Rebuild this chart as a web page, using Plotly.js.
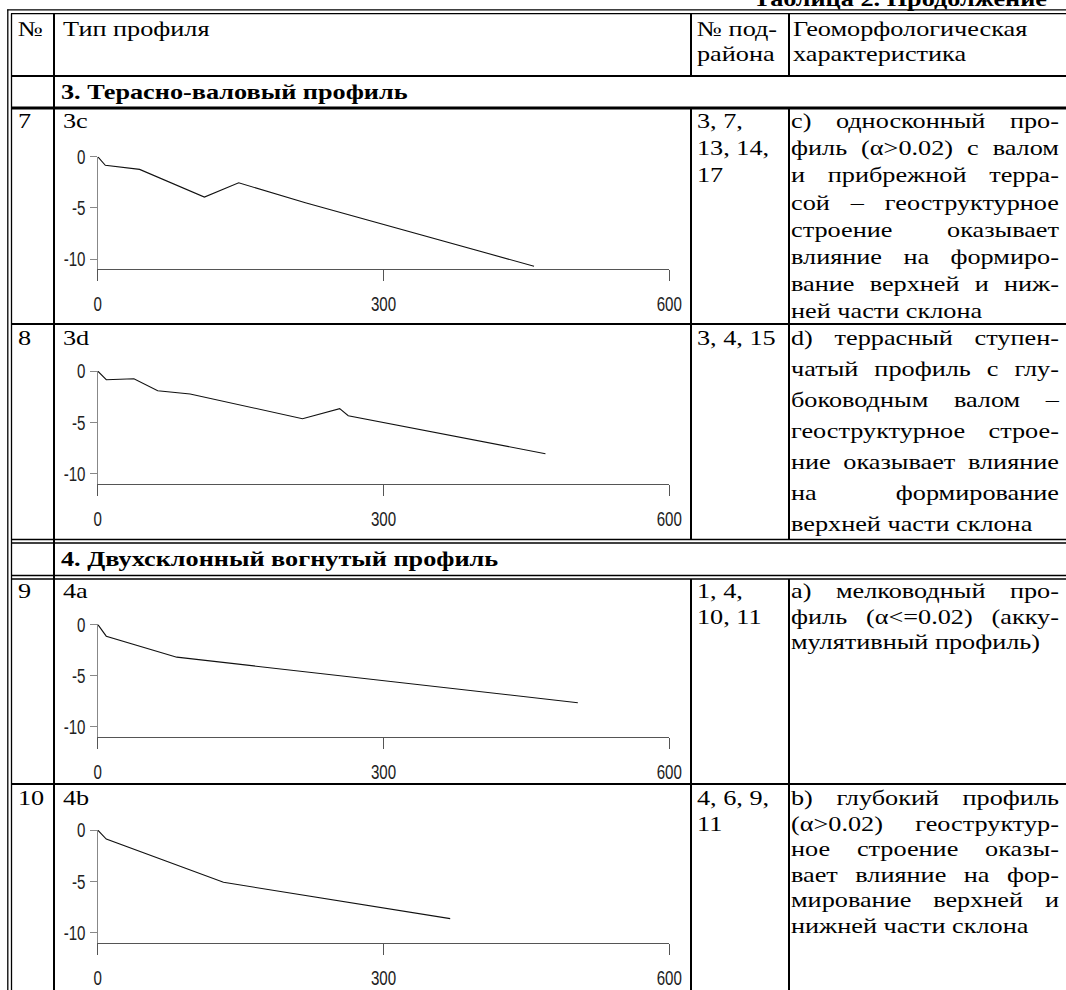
<!DOCTYPE html>
<html><head><meta charset="utf-8">
<script src="https://cdn.plot.ly/plotly-3.0.1.min.js"></script>
<style>html,body{margin:0;padding:0;background:#fff}#chart{width:1066px;height:990px}</style>
</head><body><div id="chart"></div>
<script>
// ---------------- DATA ----------------
const profile3c_x = [0, 8, 44, 112, 148, 218, 458];
const profile3c_y = [0, -0.84, -1.24, -3.95, -2.55, -4.5, -10.7];
const profile3d_x = [0, 9, 38, 63, 97, 215, 254, 263, 470];
const profile3d_y = [0, -0.85, -0.75, -1.93, -2.25, -4.66, -3.68, -4.37, -8.08];
const profile4a_x = [0, 9, 83, 504];
const profile4a_y = [0, -1.15, -3.2, -7.65];
const profile4b_x = [0, 9, 132, 370];
const profile4b_y = [0, -0.88, -5.11, -8.66];

const xTickVals = [0, 300, 600];
const xTickText = ['0', '300', '600'];
const yTickVals = [0, -5, -10];
const yTickText = ['0', '-5', '-10'];

const caption = 'Таблица 2. Продолжение';
const headerCol1 = ['№'];
const headerCol2 = ['Тип профиля'];
const headerCol3 = ['№ под-', 'района'];
const headerCol4 = ['Геоморфологическая', 'характеристика'];
const sectionTitles = ['3. Терасно-валовый профиль', '4. Двухсклонный вогнутый профиль'];
const rowNumbers = ['7', '8', '9', '10'];
const profileTypes = ['3c', '3d', '4a', '4b'];
const subregions7 = ['3, 7,', '13, 14,', '17'];
const subregions8 = ['3, 4, 15'];
const subregions9 = ['1, 4,', '10, 11'];
const subregions10 = ['4, 6, 9,', '11'];
const desc7 = ['c) односконный про-', 'филь (α>0.02) с валом', 'и прибрежной терра-', 'сой – геоструктурное', 'строение оказывает', 'влияние на формиро-', 'вание верхней и ниж-', 'ней части склона'];
const desc8 = ['d) террасный ступен-', 'чатый профиль с глу-', 'боководным валом –', 'геоструктурное строе-', 'ние оказывает влияние', 'на формирование', 'верхней части склона'];
const desc9 = ['a) мелководный про-', 'филь (α<=0.02) (акку-', 'мулятивный профиль)'];
const desc10 = ['b) глубокий профиль', '(α>0.02) геоструктур-', 'ное строение оказы-', 'вает влияние на фор-', 'мирование верхней и', 'нижней части склона'];

// ---------------- LAYOUT GEOMETRY (pixels) ----------------
const W = 1066, H = 990;
const px = x => x / W;
const py = y => 1 - y / H;
const S = 1.25;          // horizontal stretch of serif text
const TICK_S = 0.72;     // horizontal squeeze of tick labels
const serif = 'Liberation Serif';
const FS = 21;

const profiles = [[profile3c_x, profile3c_y], [profile3d_x, profile3d_y], [profile4a_x, profile4a_y], [profile4b_x, profile4b_y]];
const subregions = [subregions7, subregions8, subregions9, subregions10];
const descs = [desc7, desc8, desc9, desc10];
const rowFirstLine = [121, 338, 591, 798];
const rowLineH = [27.2, 31, 25.5, 25.5];
const chartTop = [156.7, 371, 624.4, 830];
const chartH = 112.6;
const chartX0 = 97.7, chartX1 = 669.3;

const C1 = 54, C2 = 691, C3 = 789;
const textX1 = 18, textX2 = 63, textX3 = 697, textX4 = 791, justifyW = 268;

// ---------------- TRACES & AXES ----------------
const traces = [];
const layout = {
  width: W, height: H, margin: {l: 0, r: 0, t: 0, b: 0},
  paper_bgcolor: '#fff', plot_bgcolor: 'rgba(0,0,0,0)', showlegend: false,
  shapes: [], annotations: []
};
const mkTickFont = () => ({family: 'Liberation Sans', size: 21, color: '#222'});
profiles.forEach((p, i) => {
  const n = i === 0 ? '' : String(i + 1);
  traces.push({x: p[0], y: p[1], mode: 'lines', xaxis: 'x' + n, yaxis: 'y' + n,
    line: {color: '#111', width: 1.1}, hoverinfo: 'skip'});
  layout['xaxis' + n] = {
    domain: [px(chartX0), px(chartX1)], range: [0, 600], anchor: 'y' + n,
    showline: true, linecolor: '#555', linewidth: 1, ticks: 'outside', ticklen: 11, tickcolor: '#555', tickwidth: 1,
    tickmode: 'array', tickvals: xTickVals.slice(), ticktext: xTickText.slice(), showgrid: false, zeroline: false,
    tickfont: mkTickFont(), ticklabelstandoff: 5, fixedrange: true, automargin: false
  };
  layout['yaxis' + n] = {
    domain: [py(chartTop[i] + chartH), py(chartTop[i])], range: [-11, 0], anchor: 'x' + n,
    showline: true, linecolor: '#888', linewidth: 1, ticks: 'outside', ticklen: 7, tickcolor: '#888', tickwidth: 1,
    tickmode: 'array', tickvals: yTickVals.slice(), ticktext: yTickText.slice(), showgrid: false, zeroline: false,
    tickfont: mkTickFont(), ticklabelstandoff: 0, fixedrange: true, automargin: false
  };
});

// ---------------- TABLE LINES ----------------
function hline(y, x0, x1, w) {
  layout.shapes.push({type: 'line', xref: 'paper', yref: 'paper', x0: px(x0), x1: px(x1), y0: py(y), y1: py(y), line: {color: '#000', width: w}});
}
function vline(x, y0, y1, w) {
  layout.shapes.push({type: 'line', xref: 'paper', yref: 'paper', x0: px(x), x1: px(x), y0: py(y0), y1: py(y1), line: {color: '#000', width: w}});
}
vline(7.8, 9.5, H, 1.3);
vline(11.5, 13.5, H, 1.3);
hline(9.8, 7.2, W, 1.3);
hline(13.6, 11, W, 1.3);
vline(C1, 13.5, H, 2);
[[13.5, 76], [108, 540], [579, H]].forEach(s => { vline(C2, s[0], s[1], 2); vline(C3, s[0], s[1], 2); });
hline(76, 11, W, 2);
hline(108, 11, W, 3);
hline(324, 11, W, 2);
hline(539.5, 11, W, 1.3);
hline(543, 11, W, 1.3);
hline(575.5, 11, W, 1.3);
hline(579, 11, W, 1.3);
hline(784, 11, W, 2);

// ---------------- TEXT ----------------
const annMeta = [];
const esc = s => s.replace(/&/g, '&amp;').replace(/</g, '&lt;').replace(/>/g, '&gt;');
function txt(s, x, y, opts) {
  opts = opts || {};
  layout.annotations.push({
    text: esc(s), x: px(x), y: py(y), xref: 'paper', yref: 'paper', showarrow: false,
    xanchor: opts.anchor || 'left', yanchor: 'middle', align: opts.anchor || 'left',
    borderpad: 0, borderwidth: 0,
    font: {family: serif, size: opts.size || FS, color: '#000', weight: opts.bold ? 'bold' : 'normal'}
  });
  annMeta.push({stretch: S, justify: opts.justify || 0});
}
txt(caption, 1047, -1, {anchor: 'right', bold: true});
txt(headerCol1[0], textX1, 29);
txt(headerCol2[0], textX2, 29);
headerCol3.forEach((s, k) => txt(s, textX3, 29 + k * 25));
headerCol4.forEach((s, k) => txt(s, textX4 + 2, 29 + k * 25));
txt(sectionTitles[0], 61, 92, {bold: true});
txt(sectionTitles[1], 61, 559, {bold: true});
rowNumbers.forEach((r, i) => {
  const y0 = rowFirstLine[i], lh = rowLineH[i];
  txt(r, textX1, y0);
  txt(profileTypes[i], textX2, y0);
  subregions[i].forEach((s, k) => txt(s, textX3, y0 + k * lh));
  const d = descs[i];
  d.forEach((s, k) => txt(s, textX4, y0 + k * lh, {justify: k < d.length - 1 ? justifyW : 0}));
});

Plotly.newPlot('chart', traces, layout, {staticPlot: true, displayModeBar: false}).then(gd => {
  gd.querySelectorAll('g.annotation').forEach(g => {
    const idx = +g.getAttribute('data-index');
    const meta = annMeta[idx];
    const t = g.querySelector('text.annotation-text');
    if (!t || !meta) return;
    if (meta.justify) {
      const natural = t.getComputedTextLength();
      const nsp = (t.textContent.match(/ /g) || []).length;
      if (nsp > 0) {
        const target = meta.justify / meta.stretch;
        t.style.wordSpacing = ((target - natural) / nsp) + 'px';
      }
    }
    const x = parseFloat(t.getAttribute('x')) || 0;
    t.setAttribute('transform', `translate(${x},0) scale(${meta.stretch},1) translate(${-x},0)`);
  });
  gd.querySelectorAll('.xaxislayer-above text, .yaxislayer-above text').forEach(t => {
    const x = parseFloat(t.getAttribute('x')) || 0;
    const tr = t.getAttribute('transform') || '';
    t.setAttribute('transform', `${tr} translate(${x},0) scale(${TICK_S},1) translate(${-x},0)`);
  });
});
</script>
</body></html>
